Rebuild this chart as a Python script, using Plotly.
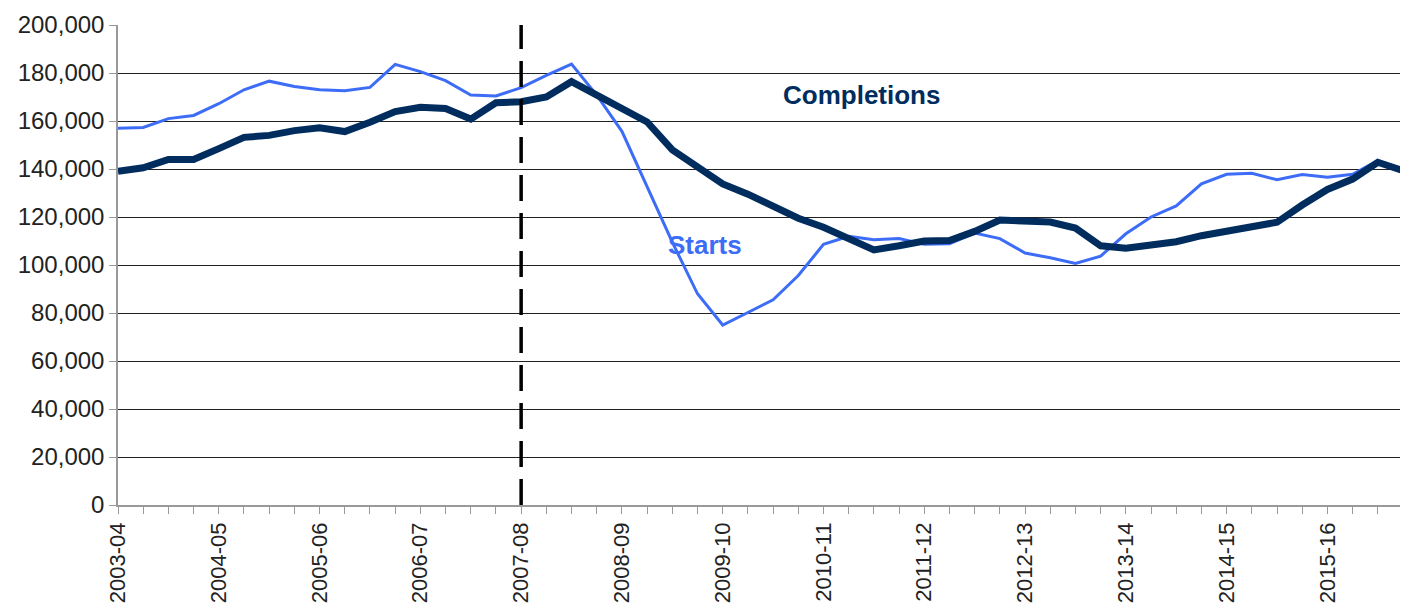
import plotly.graph_objects as go

# Financial-year tick labels (one per year, 4 quarters each)
year_labels = ["2003-04", "2004-05", "2005-06", "2006-07", "2007-08", "2008-09",
               "2009-10", "2010-11", "2011-12", "2012-13", "2013-14", "2014-15", "2015-16"]

# Quarterly values (rolling annual)
completions = [139000, 140500, 144000, 144000, 148500, 153200, 154000, 156000,
               157200, 155600, 159500, 163900, 165700, 165200, 160800, 167600,
               168000, 170000, 176400, 170800, 165800, 159600, 148000, 140500,
               133800, 129500, 124800, 119500, 115700, 110800, 106300, 108000,
               110000, 110200, 114000, 118700, 118600, 117900, 115400, 108000,
               107000, 108000, 109700, 112200, 113900, 115700, 117800, 125000,
               131500, 135800, 142800, 139300]
starts = [157000, 157300, 161000, 162300, 167200, 173000, 176600, 174400,
          173000, 172600, 174000, 183600, 180600, 176800, 170800, 170400,
          173900, 179000, 183700, 170800, 155700, 132500, 109500, 88000,
          75000, 80200, 85500, 95600, 108600, 112000, 110500, 111000,
          108600, 108900, 113300, 111000, 105000, 103000, 100600, 103700,
          113000, 120000, 124600, 133800, 137800, 138200, 135500, 137700,
          136600, 137800, 143500, 139800]

x_idx = list(range(len(completions)))
tick_vals = [4 * i for i in range(len(year_labels))]
divider_year = "2007-08"
divider_x = tick_vals[year_labels.index(divider_year)]

NAVY = "#002D5E"
BLUE = "#3D6DF7"

fig = go.Figure()
fig.add_trace(go.Scatter(x=x_idx, y=starts, mode="lines", name="Starts",
                         line=dict(color=BLUE, width=3), showlegend=False))
fig.add_trace(go.Scatter(x=x_idx, y=completions, mode="lines", name="Completions",
                         line=dict(color=NAVY, width=7), showlegend=False))

fig.add_shape(type="line", xref="x", yref="y", x0=divider_x, x1=divider_x,
              y0=0, y1=204000, line=dict(color="black", width=3.5, dash="26px,12px"))

fig.add_annotation(x=29.5, y=171000, xref="x", yref="y", text="<b>Completions</b>",
                   showarrow=False, font=dict(family="Arial", size=26, color=NAVY))
fig.add_annotation(x=23.3, y=108500, xref="x", yref="y", text="<b>Starts</b>",
                   showarrow=False, font=dict(family="Arial", size=26, color=BLUE))

fig.update_layout(
    width=1400, height=602,
    margin=dict(l=110, r=5, t=17, b=105),
    paper_bgcolor="white", plot_bgcolor="white",
    font=dict(family="Arial", size=22, color="#222222"),
)
fig.update_xaxes(
    range=[0, len(completions) - 1], automargin=False,
    tickmode="array", tickvals=tick_vals, ticktext=year_labels,
    tickangle=-90, ticks="outside", ticklen=7, tickcolor="#999999",
    minor=dict(dtick=1, tick0=0, ticks="outside", ticklen=7, tickcolor="#999999"),
    showgrid=False, showline=True, linecolor="#999999", linewidth=1.5,
    mirror=False, zeroline=False,
    tickfont=dict(family="Arial", size=22, color="#222222"),
)
fig.update_yaxes(
    range=[0, 200000], dtick=20000, tickformat=",", automargin=False,
    ticks="outside", ticklen=7, tickcolor="#999999",
    showgrid=True, gridcolor="#222222", gridwidth=1,
    showline=True, linecolor="#999999", linewidth=1.5, mirror=True,
    zeroline=False,
    tickfont=dict(family="Arial", size=24, color="#222222"),
)

fig.write_html("out.html")
